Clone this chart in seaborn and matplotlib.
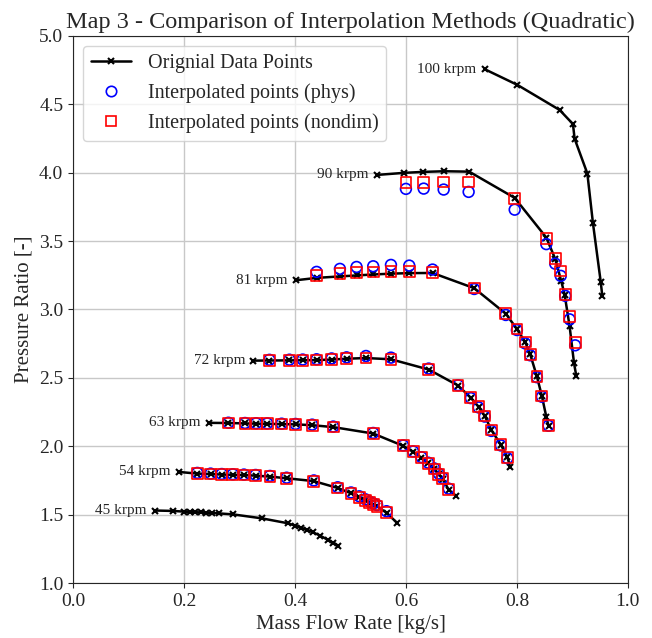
import pandas as pd
import matplotlib.pyplot as plt
import seaborn as sns
from matplotlib.lines import Line2D

sns.set_style('ticks')
plt.rcParams['font.family'] = ['Liberation Serif', 'DejaVu Serif']
plt.rcParams['mathtext.fontset'] = 'stix'

speeds = ['45 krpm', '54 krpm', '63 krpm', '72 krpm', '81 krpm', '90 krpm', '100 krpm']

x45 = [0.148, 0.180, 0.200, 0.210, 0.220, 0.230, 0.240, 0.250, 0.263, 0.288,
       0.340, 0.387, 0.400, 0.411, 0.422, 0.433, 0.446, 0.460, 0.469, 0.478]
y45 = [1.530, 1.527, 1.522, 1.520, 1.518, 1.516, 1.514, 1.512, 1.509, 1.502,
       1.473, 1.437, 1.420, 1.404, 1.388, 1.370, 1.345, 1.314, 1.294, 1.273]

x54 = [0.191, 0.224, 0.248, 0.268, 0.288, 0.308, 0.329, 0.355, 0.385, 0.434,
       0.477, 0.501, 0.516, 0.527, 0.535, 0.541, 0.548, 0.565, 0.584]
y54 = [1.812, 1.800, 1.797, 1.793, 1.791, 1.789, 1.785, 1.778, 1.766, 1.745,
       1.695, 1.656, 1.627, 1.605, 1.586, 1.574, 1.561, 1.513, 1.440]

x63 = [0.245, 0.280, 0.310, 0.330, 0.350, 0.376, 0.401, 0.431, 0.469, 0.541,
       0.595, 0.613, 0.628, 0.640, 0.651, 0.659, 0.666, 0.677, 0.690]
y63 = [2.171, 2.170, 2.167, 2.165, 2.164, 2.162, 2.160, 2.154, 2.140, 2.093,
       2.003, 1.959, 1.916, 1.876, 1.833, 1.795, 1.762, 1.683, 1.638]

x72 = [0.325, 0.354, 0.390, 0.414, 0.439, 0.466, 0.493, 0.528, 0.573, 0.641,
       0.694, 0.717, 0.731, 0.742, 0.754, 0.771, 0.783, 0.788]
y72 = [2.626, 2.627, 2.628, 2.629, 2.630, 2.634, 2.640, 2.645, 2.636, 2.561,
       2.444, 2.354, 2.288, 2.222, 2.118, 2.012, 1.919, 1.845]

x81 = [0.402, 0.439, 0.481, 0.511, 0.541, 0.573, 0.606, 0.648, 0.723, 0.780,
       0.800, 0.815, 0.824, 0.836, 0.845, 0.853, 0.857]
y81 = [3.214, 3.231, 3.242, 3.249, 3.256, 3.262, 3.266, 3.267, 3.156, 2.969,
       2.857, 2.762, 2.672, 2.511, 2.367, 2.215, 2.148]

x90 = [0.548, 0.596, 0.630, 0.669, 0.714, 0.796, 0.853, 0.869, 0.880, 0.886,
       0.895, 0.903, 0.907]
y90 = [3.984, 3.999, 4.006, 4.011, 4.008, 3.816, 3.526, 3.370, 3.206, 3.109,
       2.877, 2.606, 2.515]

x100 = [0.742, 0.801, 0.877, 0.901, 0.904, 0.927, 0.937, 0.951, 0.954]
y100 = [4.757, 4.642, 4.459, 4.356, 4.249, 3.994, 3.633, 3.204, 3.096]

# Points interpoles : (x, y phys, y nondim)
ix54 = [0.224, 0.248, 0.268, 0.288, 0.308, 0.329, 0.355, 0.385, 0.434, 0.477,
        0.501, 0.516, 0.527, 0.535, 0.541, 0.548, 0.565]
iyp54 = [1.805, 1.800, 1.797, 1.795, 1.793, 1.790, 1.783, 1.770, 1.750, 1.700,
         1.662, 1.634, 1.612, 1.594, 1.582, 1.570, 1.525]
iyn54 = [1.800, 1.797, 1.793, 1.791, 1.789, 1.785, 1.778, 1.766, 1.745, 1.695,
         1.656, 1.627, 1.605, 1.586, 1.574, 1.561, 1.513]

ix63 = [0.280, 0.310, 0.330, 0.350, 0.376, 0.401, 0.431, 0.469, 0.541, 0.595,
        0.613, 0.628, 0.640, 0.651, 0.659, 0.666, 0.677]
iyp63 = [2.172, 2.170, 2.168, 2.167, 2.165, 2.163, 2.158, 2.144, 2.097, 2.006,
         1.962, 1.920, 1.880, 1.838, 1.800, 1.768, 1.690]
iyn63 = [2.170, 2.167, 2.165, 2.164, 2.162, 2.160, 2.154, 2.140, 2.093, 2.003,
         1.959, 1.916, 1.876, 1.833, 1.795, 1.762, 1.683]

ix72 = [0.354, 0.390, 0.414, 0.439, 0.466, 0.493, 0.528, 0.573, 0.641, 0.694,
        0.717, 0.731, 0.742, 0.754, 0.771, 0.783]
iyp72 = [2.632, 2.633, 2.634, 2.636, 2.642, 2.650, 2.660, 2.648, 2.568, 2.446,
         2.352, 2.284, 2.217, 2.112, 2.006, 1.913]
iyn72 = [2.627, 2.628, 2.629, 2.630, 2.634, 2.640, 2.645, 2.636, 2.561, 2.444,
         2.354, 2.288, 2.222, 2.118, 2.012, 1.919]

ix81 = [0.439, 0.481, 0.511, 0.541, 0.573, 0.606, 0.648, 0.723, 0.780, 0.800,
        0.815, 0.824, 0.836, 0.845, 0.857]
iyp81 = [3.275, 3.297, 3.311, 3.316, 3.326, 3.321, 3.292, 3.150, 2.960, 2.850,
         2.752, 2.665, 2.505, 2.362, 2.150]
iyn81 = [3.250, 3.263, 3.272, 3.275, 3.280, 3.277, 3.268, 3.158, 2.970, 2.858,
         2.762, 2.672, 2.511, 2.367, 2.152]

ix90 = [0.600, 0.632, 0.668, 0.713, 0.796, 0.853, 0.869, 0.879, 0.887, 0.895, 0.905]
iyp90 = [3.882, 3.884, 3.877, 3.860, 3.730, 3.478, 3.335, 3.246, 3.100, 2.928, 2.738]
iyn90 = [3.926, 3.926, 3.933, 3.933, 3.811, 3.518, 3.372, 3.281, 3.109, 2.948, 2.756]

orig = [(x45, y45), (x54, y54), (x63, y63), (x72, y72), (x81, y81), (x90, y90), (x100, y100)]
interp = [(ix54, iyp54, iyn54), (ix63, iyp63, iyn63), (ix72, iyp72, iyn72),
          (ix81, iyp81, iyn81), (ix90, iyp90, iyn90)]

df_orig = pd.concat([pd.DataFrame({'m': x, 'pr': y, 'speed': s})
                     for s, (x, y) in zip(speeds, orig)], ignore_index=True)
df_int = pd.concat([pd.DataFrame({'m': x, 'phys': yp, 'nondim': yn})
                    for x, yp, yn in interp], ignore_index=True)

fig, ax = plt.subplots(figsize=(6.52, 6.38), dpi=100)
fig.subplots_adjust(left=0.112, right=0.963, top=0.9436, bottom=0.0862)

sns.lineplot(data=df_orig, x='m', y='pr', units='speed', estimator=None, sort=False,
             color='black', lw=1.8, marker='x', markersize=5, markeredgewidth=1.5,
             markeredgecolor='black', ax=ax, zorder=2)
sns.scatterplot(data=df_int, x='m', y='phys', marker='o', s=60, facecolors='none',
                edgecolor='blue', linewidth=1.2, ax=ax, zorder=3)
sns.scatterplot(data=df_int, x='m', y='nondim', marker='s', s=60, facecolors='none',
                edgecolor='red', linewidth=1.2, ax=ax, zorder=4)

# etiquettes de vitesse
for s, (x, y) in zip(speeds, orig):
    ax.annotate(s, (x[0], y[0]), xytext=(-6, 0), textcoords='offset points',
                ha='right', va='center', fontsize=11)

ax.set_xlim(0, 1)
ax.set_ylim(1, 5)
ax.set_xticks([0, 0.2, 0.4, 0.6, 0.8, 1.0])
ax.set_yticks([1.0, 1.5, 2.0, 2.5, 3.0, 3.5, 4.0, 4.5, 5.0])
ax.grid(True, color='#c8c8c8', lw=1)
ax.tick_params(labelsize=14)
ax.set_xlabel('Mass Flow Rate [kg/s]', fontsize=15)
ax.set_ylabel('Pressure Ratio [-]', fontsize=15)
ax.set_title('Map 3 - Comparison of Interpolation Methods (Quadratic)', fontsize=17.5)

handles = [
    Line2D([], [], color='black', lw=1.8, marker='x', markersize=5, markeredgewidth=1.5),
    Line2D([], [], ls='none', marker='o', markersize=7.5, mfc='none', mec='blue', mew=1.2),
    Line2D([], [], ls='none', marker='s', markersize=7.5, mfc='none', mec='red', mew=1.2),
]
ax.legend(handles, ['Orignial Data Points', 'Interpolated points (phys)',
                    'Interpolated points (nondim)'], loc='upper left', fontsize=14.5)

plt.savefig('out.png', dpi=100)
